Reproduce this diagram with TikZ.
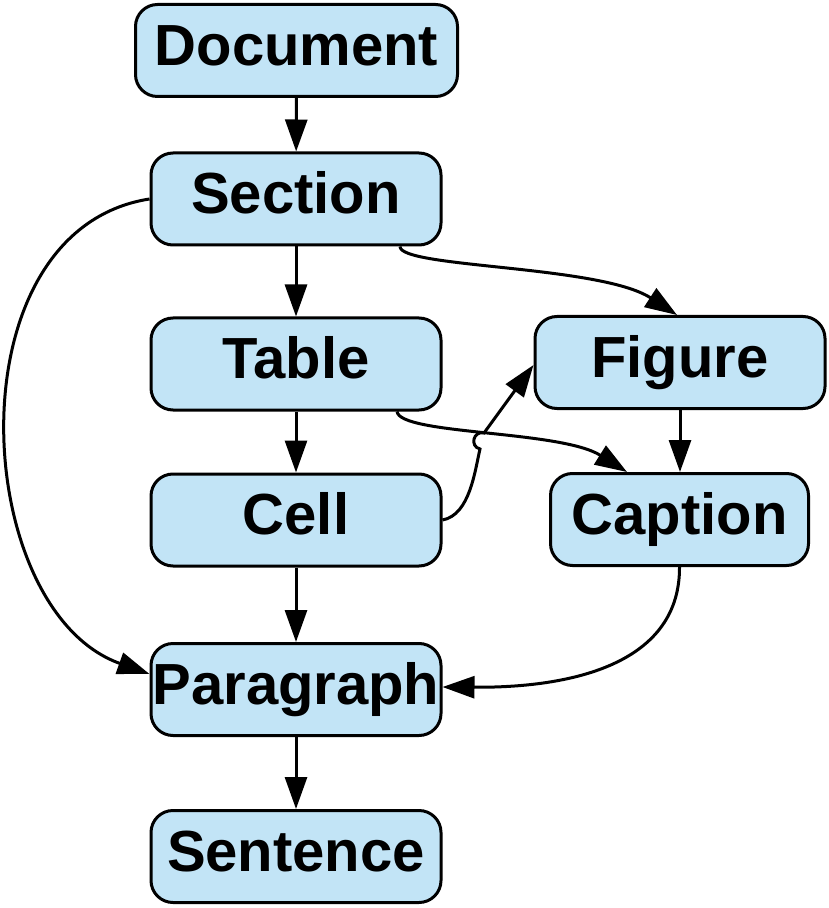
\documentclass[tikz,border=0pt]{standalone}
\usepackage{fontspec}
\setmainfont{Liberation Sans}
\usetikzlibrary{arrows.meta}
\definecolor{boxblue}{RGB}{194,228,246}

\begin{document}
\begin{tikzpicture}[x=0.5pt,y=-0.5pt,line width=1.5pt,>={Triangle[length=16pt,width=11pt]},
  box/.style={draw,fill=boxblue,rounded corners=11pt,inner sep=0pt,minimum width=145pt,minimum height=46pt,
    text height=20.8pt,text depth=6pt,font=\fontsize{29}{34}\selectfont\bfseries}]
  \useasboundingbox (0,0) rectangle (828,908);
  \node[box,minimum width=161pt] (doc) at (296.5,50.5){Document};
  \node[box] (sec) at (296,199){Section};
  \node[box] (tab) at (296,364){Table};
  \node[box] (fig) at (680,362.5){Figure};
  \node[box] (cell) at (296,520){Cell};
  \node[box,minimum width=129pt] (cap) at (679.5,519.5){Caption};
  \node[box] (para) at (296,689.5){Paragraph};
  \node[box] (sent) at (296,856.5){Sentence};
  \coordinate (hopa) at (480,449);
  \coordinate (hopb) at (484,433);
  \draw[->] (doc) -- (sec);
  \draw[->] (sec) -- (tab);
  \draw[->] (tab) -- (cell);
  \draw[->] (cell) -- (para);
  \draw[->] (para) -- (sent);
  \draw[->] (fig) -- (fig|-cap.north);
  \draw[->] (sec.west) .. controls (-50,230) and (-30,610) .. (para.west|-0,674);
  \draw[->] (sec.south-|400,0) .. controls (400,268) and (600,265) .. (fig.north-|677,0);
  \draw[->] (tab.south-|397,0) .. controls (400,435) and (560,430) .. (cap.north-|627,0);
  \draw[->] (cell.east) .. controls (470,515) and (475,470) .. (hopa) to[bend left=90,looseness=1.7] (hopb) -- (fig.west|-0,365);
  \draw[->] (cap.south) .. controls (680,660) and (580,688) .. (para.east|-0,687);
\end{tikzpicture}
\end{document}
